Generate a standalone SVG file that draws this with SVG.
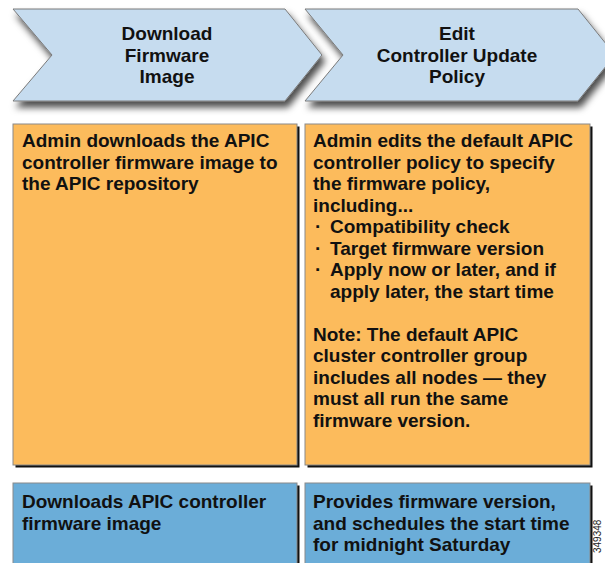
<svg xmlns="http://www.w3.org/2000/svg" width="605" height="563" viewBox="0 0 605 563">
<style>
text{font-family:"Liberation Sans",Arial,sans-serif;font-weight:bold;font-size:19px;fill:#111}
.head{text-anchor:middle}
.chev{fill:#c6dcef;stroke:#7a7a7a;stroke-width:1}
.org{fill:#fcbb5c;stroke:#8a8a8a;stroke-width:1}
.blu{fill:#6badd8;stroke:#8a8a8a;stroke-width:1}
.sh{fill:#111}
.id{font-size:10px;font-weight:normal;fill:#222}
</style>
<defs>
<filter id="ds" x="-10%" y="-20%" width="130%" height="160%">
<feDropShadow dx="3" dy="6" stdDeviation="3.5" flood-color="#000" flood-opacity="0.7"/>
</filter>
</defs>
<rect width="605" height="563" fill="#fff"/>
<g id="chevron1">
<polygon class="chev" filter="url(#ds)" points="13,9 285,9 322,55 285,101 13,101 52,55"/>
<text class="head" x="167" y="40">Download</text>
<text class="head" x="167" y="61.5">Firmware</text>
<text class="head" x="167" y="83">Image</text>
</g>
<g id="chevron2">
<polygon class="chev" filter="url(#ds)" points="305,9 578,9 615,55 578,101 305,101 343,55"/>
<text class="head" x="457" y="40">Edit</text>
<text class="head" x="457" y="61.5">Controller Update</text>
<text class="head" x="457" y="83">Policy</text>
</g>
<g id="box1">
<rect class="sh" x="15.5" y="126.5" width="284" height="341"/>
<rect class="org" x="13" y="124" width="284" height="341"/>
<text x="22" y="147">Admin downloads the APIC</text>
<text x="22" y="168.5">controller firmware image to</text>
<text x="22" y="190">the APIC repository</text>
</g>
<g id="box2">
<rect class="sh" x="307.5" y="126.5" width="285" height="341"/>
<rect class="org" x="305" y="124" width="285" height="341"/>
<text x="313" y="147">Admin edits the default APIC</text>
<text x="313" y="168.5">controller policy to specify</text>
<text x="313" y="190">the firmware policy,</text>
<text x="313" y="211.5">including...</text>
<text x="315" y="233">·</text><text x="330" y="233">Compatibility check</text>
<text x="315" y="254.5">·</text><text x="330" y="254.5">Target firmware version</text>
<text x="315" y="276">·</text><text x="330" y="276">Apply now or later, and if</text>
<text x="330" y="297.5">apply later, the start time</text>
<text x="313" y="340.5">Note: The default APIC</text>
<text x="313" y="362">cluster controller group</text>
<text x="313" y="383.5">includes all nodes — they</text>
<text x="313" y="405">must all run the same</text>
<text x="313" y="426.5">firmware version.</text>
</g>
<g id="box3">
<rect class="sh" x="15.5" y="485.5" width="284" height="90"/>
<rect class="blu" x="13" y="483" width="284" height="90"/>
<text x="22" y="508">Downloads APIC controller</text>
<text x="22" y="529.5">firmware image</text>
</g>
<g id="box4">
<rect class="sh" x="307.5" y="485.5" width="285" height="90"/>
<rect class="blu" x="305" y="483" width="285" height="90"/>
<text x="313" y="508">Provides firmware version,</text>
<text x="313" y="529.5">and schedules the start time</text>
<text x="313" y="551">for midnight Saturday</text>
</g>
<g id="connectors"></g>
<text class="id" transform="translate(601,553) rotate(-90)">349348</text>
</svg>
